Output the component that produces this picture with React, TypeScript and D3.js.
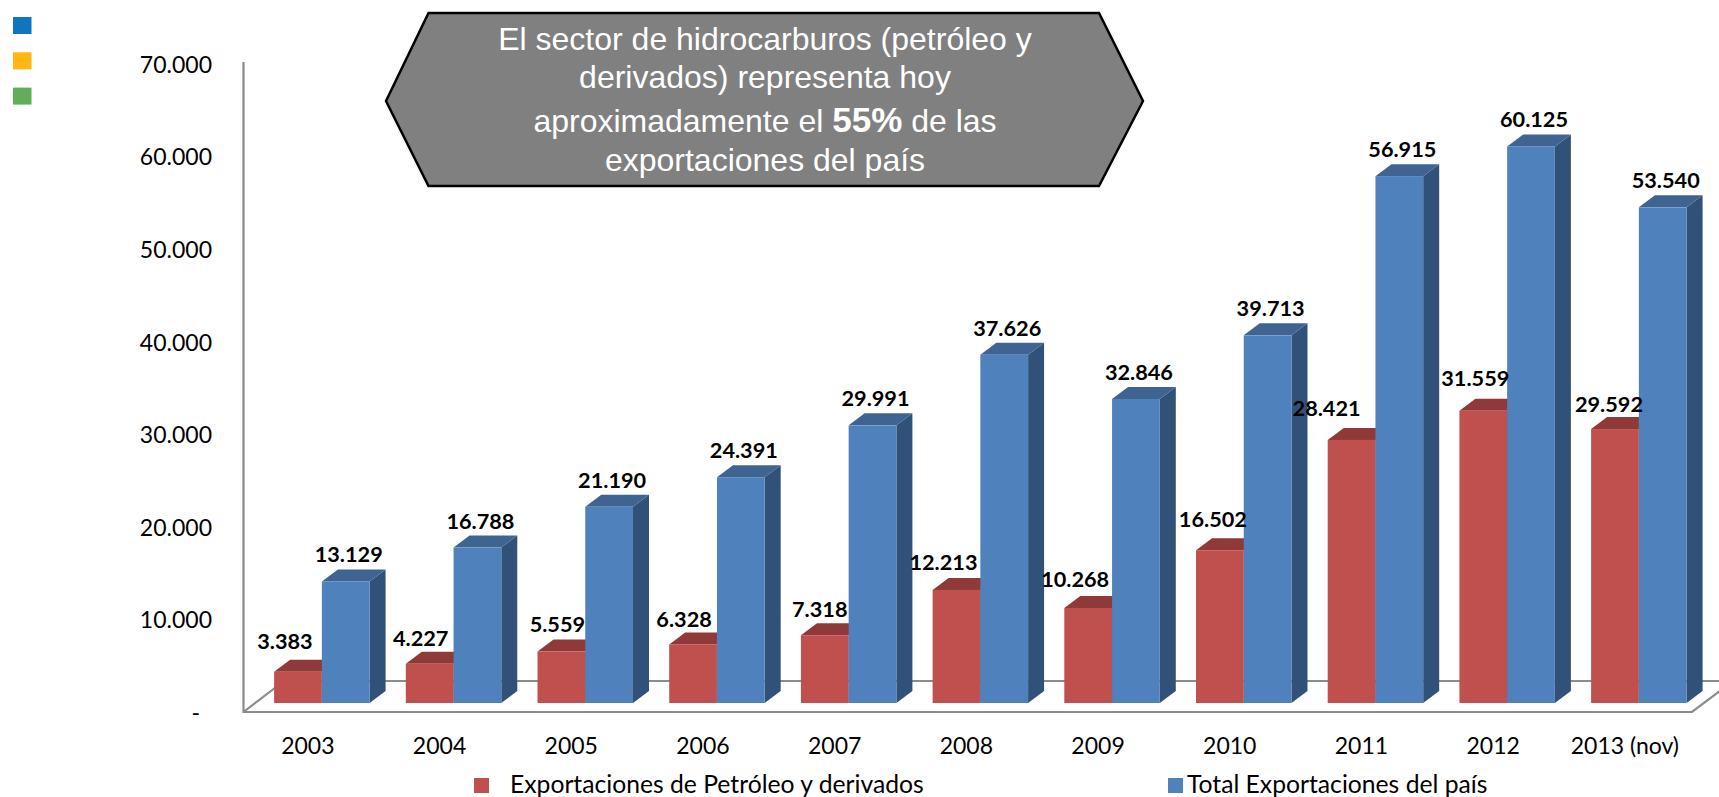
import React, { useEffect, useRef } from 'react';
import * as d3 from 'd3';

const years = ['2003', '2004', '2005', '2006', '2007', '2008', '2009', '2010', '2011', '2012', '2013 (nov)'];
const petroleo = [3383, 4227, 5559, 6328, 7318, 12213, 10268, 16502, 28421, 31559, 29592];
const total = [13129, 16788, 21190, 24391, 29991, 37626, 32846, 39713, 56915, 60125, 53540];
const yTicks = [0, 10000, 20000, 30000, 40000, 50000, 60000, 70000];
const seriesNames = ['Exportaciones de Petróleo y derivados', 'Total Exportaciones del país'];
const strayLegend = ['#0F75BC', '#FFB711', '#60AD5A'];

// hand placed labels of the red bars, like in the original
const redNudge = [
  [-13, -23], [-9, -18], [-4, -20], [-9, -17], [-5, -18], [-13, -20], [-13, -21], [-7, -23], [-25, -24], [-8, -25], [-6, -17],
];

const WIDTH = 1719;
const HEIGHT = 797;
const DX = 16;
const DY = 12;
const sans = 'Lato, sans-serif';

const es = d3.formatLocale({ decimal: ',', thousands: '.', grouping: [3], currency: ['', ''] });
const fmt = es.format(',d');

export default function App() {
  const ref = useRef<SVGSVGElement>(null);

  useEffect(() => {
    const svg = d3.select(ref.current);
    svg.selectAll('*').remove();

    const x = d3.scaleBand().domain(years).range([256, 1704.7]).paddingInner(0.275).paddingOuter(0.1375);
    const inner = d3.scaleBand().domain(['a', 'b']).range([0, x.bandwidth()]);
    const y = d3.scaleLinear().domain([0, 70000]).range([703, 55]);
    const yAxisScale = y.copy().range([713, 65]);

    // stray squares top left
    svg.append('g').selectAll('rect').data(strayLegend).enter().append('rect')
      .attr('x', 13).attr('y', (d, i) => 17 + i * 35.3).attr('width', 18.5).attr('height', 17)
      .attr('fill', d => d);

    // floor
    const floor = svg.append('g').attr('fill', 'none').attr('stroke', '#8C8C8C').attr('stroke-width', 2.2);
    floor.append('path').attr('d', 'M243.5,62V712H1692L1733,681H284L243.5,712');

    // y axis
    const yAxis = d3.axisLeft(yAxisScale).tickValues(yTicks).tickSize(0).tickPadding(31)
      .tickFormat(d => (+d === 0 ? '-' : fmt(+d)));
    const yG = svg.append('g').attr('transform', 'translate(243,0)').call(yAxis);
    yG.select('.domain').remove();
    yG.selectAll('text').attr('font-family', sans).attr('font-size', 23).attr('fill', '#000')
      .attr('dx', d => (+d === 0 ? -12 : 0));

    // category labels
    svg.append('g').selectAll('text').data(years).enter().append('text')
      .attr('x', d => x(d)! + x.bandwidth() / 2 - 14).attr('y', 754)
      .attr('text-anchor', 'middle').attr('font-family', sans).attr('font-size', 23)
      .text(d => d);

    // bars, one group per year so the blue one covers the red one
    const drawBar = (g, bx, w, v, front, top, side) => {
      const t = y(v);
      const b = y(0);
      g.append('path').attr('fill', side)
        .attr('d', `M${bx + w},${t}l${DX},${-DY}V${b - DY}l${-DX},${DY}Z`);
      g.append('path').attr('fill', top)
        .attr('d', `M${bx},${t}l${DX},${-DY}h${w}l${-DX},${DY}Z`);
      g.append('rect').attr('x', bx).attr('y', t).attr('width', w).attr('height', b - t).attr('fill', front);
    };

    years.forEach((yr, i) => {
      const g = svg.append('g');
      const x0 = x(yr)!;
      const w = inner.bandwidth();
      drawBar(g, x0 + inner('a')!, w, petroleo[i], '#C0504D', '#8F3A38', '#7A2F2D');
      drawBar(g, x0 + inner('b')!, w, total[i], '#4F81BD', '#3F6491', '#325178');
    });

    // data labels on top of everything
    const labels = svg.append('g').attr('font-family', sans).attr('font-size', 21.7).attr('font-weight', 700)
      .attr('text-anchor', 'middle');
    years.forEach((yr, i) => {
      const x0 = x(yr)!;
      const w = inner.bandwidth();
      labels.append('text')
        .attr('x', x0 + inner('a')! + w / 2 + redNudge[i][0]).attr('y', y(petroleo[i]) + redNudge[i][1])
        .text(fmt(petroleo[i]));
      labels.append('text')
        .attr('x', x0 + inner('b')! + w / 2 + 3).attr('y', y(total[i]) - 19)
        .text(fmt(total[i]));
    });

    // bottom legend
    const legendX = [474, 1168];
    const legendText = [510, 1187];
    const legendColor = ['#C0504D', '#4F81BD'];
    seriesNames.forEach((s, i) => {
      svg.append('rect').attr('x', legendX[i]).attr('y', 778).attr('width', 15).attr('height', 15).attr('fill', legendColor[i]);
      svg.append('text').attr('x', legendText[i]).attr('y', 792.5)
        .attr('font-family', sans).attr('font-size', 24.7).text(s);
    });

    // callout
    svg.append('path')
      .attr('d', 'M386,101L428.5,13H1099L1143,101L1099,186H428.5Z')
      .attr('fill', '#808080').attr('stroke', '#000').attr('stroke-width', 2.5);
    const callout = svg.append('text').attr('text-anchor', 'middle').attr('fill', '#fff')
      .attr('font-family', '"Liberation Sans", Arial, sans-serif').attr('font-size', 32);
    const lineY = [50, 88, 132, 171];
    callout.append('tspan').attr('x', 765).attr('y', lineY[0]).text('El sector de hidrocarburos (petróleo y');
    callout.append('tspan').attr('x', 765).attr('y', lineY[1]).text('derivados) representa hoy');
    const l3 = callout.append('tspan').attr('x', 765).attr('y', lineY[2]).text('aproximadamente el ');
    l3.append('tspan').attr('font-weight', 700).attr('font-size', 35).text('55%');
    l3.append('tspan').text(' de las');
    callout.append('tspan').attr('x', 765).attr('y', lineY[3]).text('exportaciones del país');
  }, []);

  return (
    <svg ref={ref} width={WIDTH} height={HEIGHT} style={{ position: 'absolute', left: 0, top: 0, background: '#fff' }} />
  );
}
